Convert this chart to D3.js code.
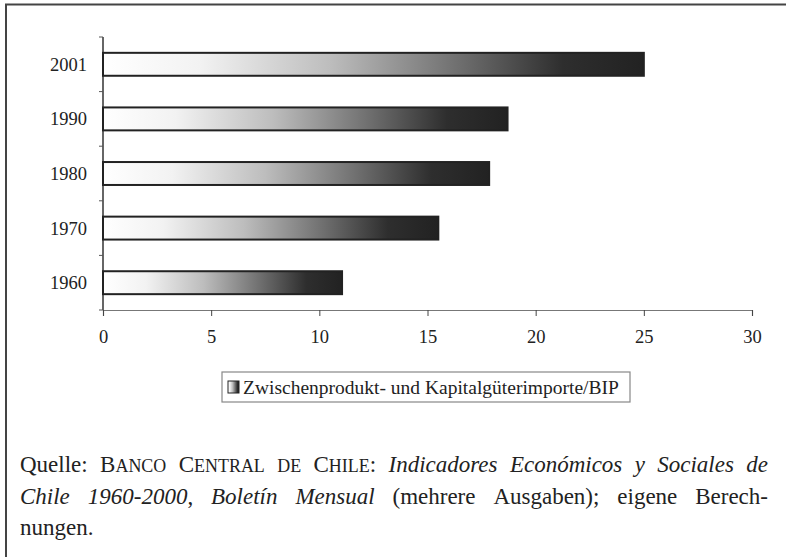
<!DOCTYPE html>
<html>
<head>
<meta charset="utf-8">
<script src="https://cdn.jsdelivr.net/npm/d3@7"></script>
<style>
  body { margin: 0; background: #fff; }
</style>
</head>
<body>
<div id="wrap"></div>
<script>
const years = ["2001", "1990", "1980", "1970", "1960"];
const values = [25.0, 18.7, 17.85, 15.5, 11.05];
const xTicks = [0, 5, 10, 15, 20, 25, 30];
const legendLabel = "Zwischenprodukt- und Kapitalgüterimporte/BIP";

// source note, one array per printed line; each word is a list of [text, style] pieces
// style: "n" normal, "i" italic, "s" small caps
const noteLine1 = [
  [["Quelle:", "n"]], [["Banco", "s"]], [["Central", "s"]], [["de", "s"]], [["Chile", "s"], [":", "n"]],
  [["Indicadores", "i"]], [["Económicos", "i"]], [["y", "i"]], [["Sociales", "i"]], [["de", "i"]]
];
const noteLine2 = [
  [["Chile", "i"]], [["1960-2000", "i"], [",", "n"]], [["Boletín", "i"]], [["Mensual", "i"]],
  [["(mehrere", "n"]], [["Ausgaben);", "n"]], [["eigene", "n"]], [["Berech-", "n"]]
];
const noteLine3 = [[["nungen.", "n"]]];

const width = 786, height = 557;
const serif = "Liberation Serif, Times New Roman, serif";
const data = years.map((y, i) => ({ year: y, value: values[i] }));

const svg = d3.select("#wrap").append("svg").attr("width", width).attr("height", height);

const defs = svg.append("defs");
const grad = defs.append("linearGradient").attr("id", "barGrad")
  .attr("x1", "0%").attr("x2", "100%").attr("y1", "0%").attr("y2", "0%");
[[0, "#ffffff"], [0.18, "#f2f2f2"], [0.42, "#bdbdbd"], [0.66, "#6e6e6e"], [0.85, "#2e2e2e"], [1, "#222222"]]
  .forEach(s => grad.append("stop").attr("offset", s[0]).attr("stop-color", s[1]));

// frame (top and left edges only)
svg.append("line").attr("x1", 5).attr("x2", width).attr("y1", 4.5).attr("y2", 4.5)
  .attr("stroke", "#444").attr("stroke-width", 2);
svg.append("line").attr("x1", 6).attr("x2", 6).attr("y1", 4).attr("y2", height)
  .attr("stroke", "#444").attr("stroke-width", 2);

const x = d3.scaleLinear().domain([0, 30]).range([103, 752]);
const y = d3.scaleBand().domain(years).range([37, 310]).paddingInner(0.58).paddingOuter(0.29);

// x axis
const xAxis = svg.append("g").attr("transform", "translate(0,310)")
  .call(d3.axisBottom(x).tickValues(xTicks).tickSize(6).tickPadding(14).tickFormat(d3.format("d")));
xAxis.select(".domain").attr("stroke", "#777").attr("stroke-width", 1.2);
xAxis.selectAll(".tick line").attr("stroke", "#444");
xAxis.selectAll("text").attr("font-family", serif).attr("font-size", 18.5).attr("fill", "#222");

// y axis
const yTickPos = d3.range(years.length + 1).map(i => 37 + i * y.step());
const yAxis = svg.append("g").attr("transform", "translate(103,0)");
yAxis.append("line").attr("y1", 37).attr("y2", 310).attr("stroke", "#333").attr("stroke-width", 1.5);
yAxis.selectAll(".yt").data(yTickPos).join("line").attr("class", "yt")
  .attr("x1", -4).attr("x2", 0).attr("y1", d => d).attr("y2", d => d)
  .attr("stroke", "#555");
yAxis.selectAll(".yl").data(years).join("text").attr("class", "yl")
  .attr("x", -16).attr("y", d => y(d) + y.bandwidth() / 2)
  .attr("dy", "0.35em").attr("text-anchor", "end")
  .attr("font-family", serif).attr("font-size", 18.5).attr("fill", "#222").text(d => d);

// bars
svg.selectAll(".bar").data(data).join("rect").attr("class", "bar")
  .attr("x", x(0)).attr("y", d => y(d.year))
  .attr("width", d => x(d.value) - x(0)).attr("height", y.bandwidth())
  .attr("fill", "url(#barGrad)").attr("stroke", "#222").attr("stroke-width", 2);

// legend
const lg = svg.append("g");
lg.append("rect").attr("x", 222).attr("y", 372).attr("width", 408).attr("height", 30)
  .attr("fill", "#fff").attr("stroke", "#888").attr("stroke-width", 1.2);
lg.append("rect").attr("x", 228).attr("y", 381).attr("width", 11).attr("height", 12)
  .attr("fill", "url(#barGrad)").attr("stroke", "#222").attr("stroke-width", 1);
lg.append("text").attr("x", 243).attr("y", 394)
  .attr("font-family", serif).attr("font-size", 19.5).attr("fill", "#222").text(legendLabel);

// source note, justified by spreading the gaps between words
const noteSize = 23, noteLeft = 20, noteRight = 768;
function addPiece(text, t, style) {
  if (style === "s") {
    // small caps: capitals stay full size, lower case becomes smaller capitals
    for (const ch of t) {
      const up = ch === ch.toUpperCase();
      text.append("tspan").attr("font-size", up ? noteSize : noteSize * 0.78).text(ch.toUpperCase());
    }
  } else {
    text.append("tspan").attr("font-style", style === "i" ? "italic" : "normal").text(t);
  }
}
function noteLine(words, baseline, justify) {
  const g = svg.append("g");
  const items = words.map(w => {
    const t = g.append("text").attr("y", baseline)
      .attr("font-family", serif).attr("font-size", noteSize).attr("fill", "#222");
    w.forEach(p => addPiece(t, p[0], p[1]));
    return { node: t, w: t.node().getComputedTextLength() };
  });
  const total = d3.sum(items, d => d.w);
  const gap = justify && items.length > 1
    ? (noteRight - noteLeft - total) / (items.length - 1)
    : noteSize * 0.25;
  let cx = noteLeft;
  items.forEach(d => { d.node.attr("x", cx); cx += d.w + gap; });
}
noteLine(noteLine1, 472, true);
noteLine(noteLine2, 504, true);
noteLine(noteLine3, 535, false);
</script>
</body>
</html>
